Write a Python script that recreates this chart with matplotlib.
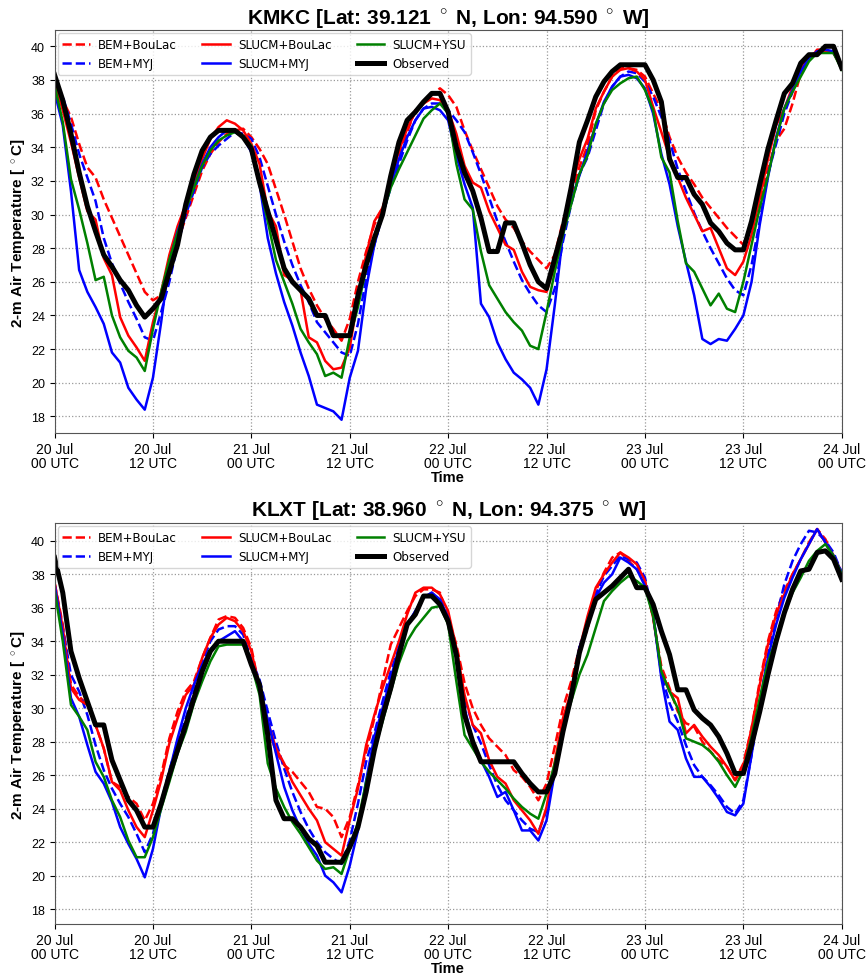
import matplotlib
matplotlib.use("Agg")
import matplotlib.pyplot as plt
import numpy as np

plt.rcParams['font.family'] = ['Liberation Sans', 'DejaVu Sans']
plt.rcParams['mathtext.fontset'] = 'custom'
plt.rcParams['mathtext.rm'] = 'Liberation Sans'
plt.rcParams['mathtext.bf'] = 'Liberation Sans:bold'

hours = np.arange(0, 97)
tick_hours = [0, 12, 24, 36, 48, 60, 72, 84, 96]
tick_labels = ["20 Jul\n00 UTC", "20 Jul\n12 UTC", "21 Jul\n00 UTC", "21 Jul\n12 UTC",
               "22 Jul\n00 UTC", "22 Jul\n12 UTC", "23 Jul\n00 UTC", "23 Jul\n12 UTC",
               "24 Jul\n00 UTC"]

# ---- KMKC ----
kmkc_obs = [38.3, 36.8, 34.8, 32.5, 30.5, 29.0, 27.6, 26.9, 26.1, 25.5, 24.6, 23.9,
            24.4, 25.0, 26.6, 28.2, 30.6, 32.4, 33.8, 34.6, 35.0, 35.0, 35.0, 34.6,
            33.9, 31.9, 30.2, 28.5, 26.8, 26.0, 25.5, 25.0, 24.0, 24.0, 22.8, 22.8,
            22.8, 25.2, 27.0, 28.6, 30.0, 32.3, 34.3, 35.6, 36.1, 36.7, 37.2, 37.2,
            36.1, 34.0, 32.5, 31.4, 29.8, 27.8, 27.8, 29.5, 29.5, 28.3, 27.0, 26.0,
            25.6, 27.4, 29.2, 31.6, 34.3, 35.6, 37.0, 37.9, 38.5, 38.9, 38.9, 38.9,
            38.9, 38.0, 36.7, 33.3, 32.2, 32.2, 31.2, 30.6, 29.5, 29.0, 28.3, 27.9,
            27.9, 29.6, 31.8, 33.9, 35.6, 37.2, 37.8, 39.0, 39.5, 39.5, 40.0, 40.0,
            38.7]
kmkc_slucm_myj = [37.3, 35.3, 31.4, 26.7, 25.4, 24.5, 23.5, 21.8, 21.2, 19.7, 19.0, 18.4,
                  20.3, 23.6, 27.2, 29.0, 30.3, 31.6, 33.0, 34.0, 34.6, 35.0, 34.9, 34.6,
                  33.7, 31.8, 28.6, 26.5, 24.8, 23.4, 21.8, 20.4, 18.7, 18.5, 18.3, 17.8,
                  20.3, 21.9, 25.6, 28.2, 30.0, 31.7, 33.3, 34.6, 35.6, 36.3, 36.4, 36.2,
                  35.6, 33.5, 31.8, 30.4, 24.7, 23.9, 22.4, 21.4, 20.6, 20.2, 19.7, 18.7,
                  20.8, 24.6, 28.8, 30.8, 32.3, 33.8, 35.3, 36.7, 37.6, 38.2, 38.3, 38.1,
                  37.5, 36.0, 33.6, 31.8, 29.3, 27.2, 25.2, 22.6, 22.3, 22.6, 22.5, 23.2,
                  24.0, 26.0, 29.4, 32.2, 34.6, 36.3, 37.4, 38.5, 39.3, 39.7, 39.8, 39.7,
                  38.7]
kmkc_slucm_ysu = [37.7, 35.5, 32.1, 30.3, 28.3, 26.1, 26.3, 24.0, 22.7, 21.9, 21.5, 20.7,
                  23.2, 25.4, 27.3, 28.9, 30.3, 31.6, 32.9, 33.8, 34.4, 34.7, 34.9, 34.6,
                  34.1, 31.8, 29.6, 27.3, 26.0, 24.7, 23.2, 22.4, 21.7, 20.4, 20.6, 20.3,
                  22.7, 24.5, 26.8, 28.4, 30.0, 31.6, 32.7, 33.7, 34.7, 35.7, 36.2, 36.6,
                  36.0, 33.0, 30.9, 30.3, 27.8, 25.8, 25.0, 24.2, 23.6, 23.1, 22.2, 22.0,
                  24.2, 26.6, 28.8, 30.6, 32.4, 33.5, 35.4, 36.6, 37.4, 37.8, 38.1, 38.2,
                  37.4, 36.2, 33.4, 32.5, 29.6, 27.1, 26.6, 25.6, 24.6, 25.3, 24.4, 24.2,
                  26.0, 28.2, 30.4, 32.3, 34.5, 36.3, 37.3, 38.2, 39.1, 39.6, 39.6, 39.6,
                  38.6]
kmkc_slucm_boulac = [37.9, 36.2, 34.3, 32.2, 30.2, 29.7, 27.4, 26.4, 23.9, 22.8, 22.1, 21.3,
                     23.6, 25.4, 27.6, 29.3, 30.6, 31.8, 33.3, 34.5, 35.2, 35.6, 35.4, 35.0,
                     34.2, 33.0, 30.2, 29.3, 26.4, 26.1, 25.5, 22.7, 22.4, 21.3, 20.8, 20.9,
                     22.1, 25.0, 27.6, 29.6, 30.4, 32.0, 33.8, 35.1, 36.1, 36.6, 36.9, 36.8,
                     36.2, 34.8, 32.9, 31.9, 31.6, 30.2, 29.2, 28.2, 27.9, 26.6, 25.7, 25.5,
                     25.4, 27.0, 29.3, 31.6, 33.3, 34.5, 36.3, 37.3, 38.2, 38.6, 38.7, 38.5,
                     38.0, 36.4, 34.9, 33.4, 32.2, 31.0, 30.0, 29.0, 29.2, 28.0, 26.8, 26.4,
                     27.2, 28.8, 31.0, 33.3, 35.3, 36.3, 37.6, 38.7, 39.4, 39.7, 39.7, 39.6,
                     38.7]
kmkc_bem_boulac = [37.9, 36.8, 35.8, 34.2, 32.8, 32.2, 30.9, 29.8, 28.7, 27.6, 26.5, 25.4,
                   24.9, 25.2, 26.8, 28.4, 29.8, 31.2, 32.6, 33.6, 34.3, 34.8, 35.0, 35.1,
                   34.6, 33.9, 33.0, 31.5, 30.0, 28.4, 26.8, 25.6, 24.6, 23.8, 23.2, 22.5,
                   23.8, 26.0, 27.8, 29.4, 30.4, 31.8, 33.5, 34.9, 36.2, 36.7, 37.1, 37.5,
                   37.1, 36.4, 35.0, 33.8, 32.7, 31.6, 30.5, 29.7, 29.2, 28.4, 27.8, 27.3,
                   26.8, 27.6, 29.6, 31.2, 32.8, 34.1, 36.2, 37.3, 38.2, 38.7, 38.7, 38.6,
                   38.2, 37.2, 36.2, 34.6, 33.4, 32.5, 31.8, 31.0, 30.4, 29.8, 29.2, 28.7,
                   28.2, 29.4, 30.8, 32.7, 34.4, 35.1, 36.6, 38.4, 39.2, 39.8, 39.8, 39.6,
                   38.8]
kmkc_bem_myj = [37.5, 37.0, 35.4, 33.6, 32.2, 30.8, 28.6, 27.1, 25.9, 24.8, 23.8, 22.7,
                22.5, 24.2, 26.0, 28.2, 30.0, 31.4, 32.8, 33.6, 34.1, 34.5, 34.9, 34.8,
                34.5, 33.4, 31.7, 30.0, 28.4, 27.0, 25.8, 24.8, 23.6, 23.0, 22.4, 21.8,
                21.6, 23.5, 26.2, 28.2, 30.0, 31.6, 33.0, 34.4, 35.6, 36.3, 36.6, 36.6,
                36.2, 35.6, 34.9, 33.7, 32.4, 31.0, 29.6, 28.4, 27.2, 26.1, 25.3, 24.6,
                24.2, 25.6, 28.4, 30.6, 32.4, 33.4, 35.0, 36.6, 37.6, 38.2, 38.5, 38.4,
                37.9, 37.0, 35.8, 34.4, 32.7, 31.4, 30.1, 29.0, 28.0, 27.1, 26.2, 25.5,
                25.2, 27.0, 29.6, 32.4, 34.2, 36.0, 37.3, 38.5, 39.3, 39.7, 39.7, 39.6,
                38.7]

# ---- KLXT ----
klxt_obs = [39.0, 36.9, 33.4, 31.8, 30.4, 29.0, 29.0, 26.9, 25.7, 24.5, 23.9, 22.9,
            22.9, 24.3, 26.0, 27.5, 29.0, 30.6, 32.2, 33.4, 34.0, 34.0, 34.0, 34.0,
            32.6, 31.4, 28.4, 24.5, 23.4, 23.4, 22.9, 22.2, 21.8, 20.8, 20.8, 20.8,
            21.7, 22.9, 25.0, 27.5, 29.5, 31.2, 33.2, 35.0, 35.6, 36.7, 36.7, 36.2,
            35.2, 33.2, 29.6, 28.0, 26.8, 26.8, 26.8, 26.8, 26.8, 26.1, 25.5, 25.0,
            25.0, 26.1, 28.6, 30.7, 33.3, 35.0, 36.5, 36.9, 37.3, 37.8, 38.3, 37.2,
            37.2, 36.2, 34.6, 33.2, 31.1, 31.1, 29.9, 29.4, 29.0, 28.3, 27.3, 26.1,
            26.1, 27.8, 29.8, 32.0, 34.0, 35.7, 37.1, 38.2, 38.3, 39.3, 39.4, 38.9,
            37.7]
klxt_slucm_myj = [37.4, 34.4, 30.6, 29.5, 27.8, 26.2, 25.5, 24.4, 22.9, 21.9, 21.0, 19.9,
                  21.6, 24.1, 26.2, 28.2, 30.0, 31.4, 32.6, 33.5, 34.0, 34.3, 34.6, 34.0,
                  32.8, 31.4, 29.3, 27.3, 25.3, 23.9, 22.8, 21.9, 21.2, 20.0, 19.6, 19.0,
                  20.6, 22.7, 25.7, 28.3, 30.0, 31.8, 33.6, 34.9, 35.8, 36.6, 36.9, 36.5,
                  35.4, 33.2, 30.0, 28.0, 26.9, 25.9, 24.7, 25.0, 23.9, 22.7, 22.7, 22.1,
                  23.3, 26.2, 28.7, 30.8, 33.6, 35.0, 36.6, 37.5, 38.0, 39.0, 38.7, 38.3,
                  37.3, 35.6, 31.8, 29.2, 28.7, 27.0, 25.9, 25.9, 25.3, 24.6, 23.8, 23.6,
                  24.3, 27.2, 30.4, 33.0, 35.0, 36.6, 37.8, 38.9, 39.8, 40.7, 39.9, 39.1,
                  38.1]
klxt_slucm_ysu = [37.1, 34.0, 30.2, 29.5, 28.7, 26.8, 25.9, 24.5, 23.5, 22.1, 21.1, 21.1,
                  22.3, 24.0, 25.6, 27.3, 28.6, 30.3, 31.6, 32.8, 33.7, 33.8, 33.8, 33.8,
                  32.6, 30.8, 26.7, 25.2, 24.1, 23.2, 22.5, 21.7, 20.9, 20.4, 20.5, 20.1,
                  21.6, 23.2, 25.6, 27.5, 29.2, 31.0, 32.7, 34.0, 34.8, 35.4, 36.0, 36.1,
                  35.0, 31.6, 28.4, 27.6, 26.8, 26.2, 25.7, 25.2, 24.6, 24.1, 23.7, 23.4,
                  24.9, 26.7, 28.8, 30.4, 32.0, 33.2, 34.8, 36.4, 37.0, 37.5, 37.9, 37.6,
                  37.2, 35.5, 32.2, 31.0, 30.0, 28.2, 28.0, 27.8, 27.4, 26.8, 26.0, 25.3,
                  26.3, 28.3, 30.6, 32.7, 34.2, 35.7, 36.9, 37.8, 38.8, 39.4, 39.8, 39.1,
                  38.0]
klxt_slucm_boulac = [37.5, 34.8, 31.2, 30.5, 30.2, 29.0, 27.6, 25.6, 25.1, 23.9, 22.9, 22.3,
                     23.9, 25.7, 27.9, 29.4, 30.8, 31.4, 33.0, 34.2, 35.0, 35.4, 35.2, 34.6,
                     33.4, 31.2, 29.2, 27.6, 26.7, 25.6, 24.8, 24.0, 23.3, 22.0, 21.6, 21.2,
                     23.3, 25.2, 27.8, 29.6, 31.2, 32.6, 34.0, 35.6, 36.9, 37.2, 37.2, 36.8,
                     35.8, 33.6, 30.8, 29.0, 28.5, 26.9, 25.9, 25.5, 24.5, 23.9, 23.3, 22.5,
                     24.1, 26.8, 29.4, 31.0, 33.5, 35.5, 37.2, 38.0, 38.7, 39.3, 39.0, 38.6,
                     37.6, 35.4, 32.2, 31.0, 30.6, 28.5, 29.0, 28.3, 27.7, 27.2, 26.5, 25.7,
                     26.5, 28.8, 31.4, 33.8, 35.6, 36.8, 38.0, 38.9, 39.8, 40.7, 39.9, 39.1,
                     38.1]
klxt_bem_boulac = [37.5, 35.0, 31.4, 30.7, 30.2, 29.0, 27.6, 25.6, 25.3, 24.7, 24.3, 23.3,
                   24.3, 26.0, 28.2, 29.8, 31.0, 31.6, 33.0, 34.2, 35.3, 35.5, 35.4, 34.8,
                   33.6, 31.2, 28.9, 27.4, 26.6, 26.2, 25.6, 25.0, 24.1, 24.0, 23.5, 22.3,
                   23.5, 25.4, 27.4, 29.4, 31.6, 33.8, 34.8, 35.8, 36.7, 37.1, 37.1, 36.9,
                   35.4, 33.8, 31.5, 30.0, 29.0, 28.2, 27.7, 27.2, 26.3, 25.9, 25.3, 24.5,
                   25.5, 27.7, 30.0, 31.6, 33.6, 34.7, 37.0, 38.1, 39.0, 39.3, 38.8, 38.3,
                   37.6, 35.4, 32.5, 31.2, 29.8, 29.1, 28.9, 28.0, 27.4, 26.9, 26.5, 25.7,
                   26.7, 28.8, 31.6, 34.0, 35.8, 37.0, 38.0, 38.9, 39.9, 40.7, 40.1, 39.1,
                   38.1]
klxt_bem_myj = [37.4, 34.8, 32.0, 31.0, 29.6, 27.8, 26.3, 25.2, 24.3, 23.5, 22.5, 21.4,
                22.5, 24.4, 26.3, 27.9, 29.4, 31.0, 32.7, 34.0, 34.7, 34.9, 34.9, 34.4,
                32.9, 31.7, 29.8, 28.0, 26.4, 25.0, 23.8, 22.8, 22.0, 21.4, 21.0, 20.7,
                22.1, 24.3, 26.8, 28.5, 30.4, 32.2, 33.6, 35.0, 35.8, 36.6, 36.9, 36.4,
                35.3, 32.8, 30.6, 29.0, 27.9, 26.6, 25.4, 24.5, 23.9, 23.3, 22.8, 22.6,
                23.9, 26.2, 29.0, 30.8, 33.6, 35.1, 36.8, 37.9, 38.5, 39.1, 38.9, 38.7,
                37.8, 35.6, 32.0, 30.3, 29.2, 27.8, 26.6, 25.9, 25.4, 24.8, 24.1, 23.7,
                24.5, 27.2, 30.2, 33.2, 35.4, 37.4, 38.8, 39.8, 40.6, 40.5, 40.0, 39.3,
                38.1]

stations = [
    ("KMKC [Lat: 39.121 $^\\circ$ N, Lon: 94.590 $^\\circ$ W]",
     [kmkc_bem_boulac, kmkc_bem_myj, kmkc_slucm_boulac, kmkc_slucm_myj, kmkc_slucm_ysu, kmkc_obs],
     (17.0, 40.95)),
    ("KLXT [Lat: 38.960 $^\\circ$ N, Lon: 94.375 $^\\circ$ W]",
     [klxt_bem_boulac, klxt_bem_myj, klxt_slucm_boulac, klxt_slucm_myj, klxt_slucm_ysu, klxt_obs],
     (17.1, 41.05)),
]
names = ["BEM+BouLac", "BEM+MYJ", "SLUCM+BouLac", "SLUCM+MYJ", "SLUCM+YSU", "Observed"]
colors = ["red", "blue", "red", "blue", "green", "black"]
styles = ["--", "--", "-", "-", "-", "-"]
widths = [1.8, 1.8, 1.8, 1.8, 1.8, 3.6]

fig = plt.figure(figsize=(8.66, 9.78), dpi=100)
positions = [[0.063, 0.556, 0.909, 0.412], [0.063, 0.054, 0.909, 0.410]]

for pos, (title, series, ylim) in zip(positions, stations):
    ax = fig.add_axes(pos)
    for vals, nm, c, ls, lw in zip(series, names, colors, styles, widths):
        ax.plot(hours, vals, color=c, linestyle=ls, linewidth=lw, label=nm)
    ax.set_xlim(0, 96)
    ax.set_ylim(*ylim)
    ax.set_xticks(tick_hours)
    ax.set_xticklabels(tick_labels, fontsize=10, linespacing=1.0)
    ax.tick_params(axis='x', pad=2.5)
    ax.set_yticks(np.arange(18, 41, 2))
    ax.tick_params(axis='y', labelsize=9)
    ax.grid(True, linestyle=':', color='#999999', linewidth=0.9)
    ax.set_title(title, fontsize=15, fontweight='bold', pad=5)
    ax.set_xlabel("Time", fontsize=10.5, fontweight='bold', labelpad=0)
    ax.set_ylabel("2-m Air Temperature [ $\\mathbf{^\\circ}$C]", fontsize=11, fontweight='bold',
                  labelpad=3)
    for s in ax.spines.values():
        s.set_color('#555555')
    ax.legend(loc='upper left', ncol=3, prop={'family': 'DejaVu Sans', 'size': 8.6},
              handlelength=2.3, handletextpad=0.7, columnspacing=2.1,
              borderaxespad=0.25, labelspacing=0.5)

fig.savefig("out.png", dpi=100)
